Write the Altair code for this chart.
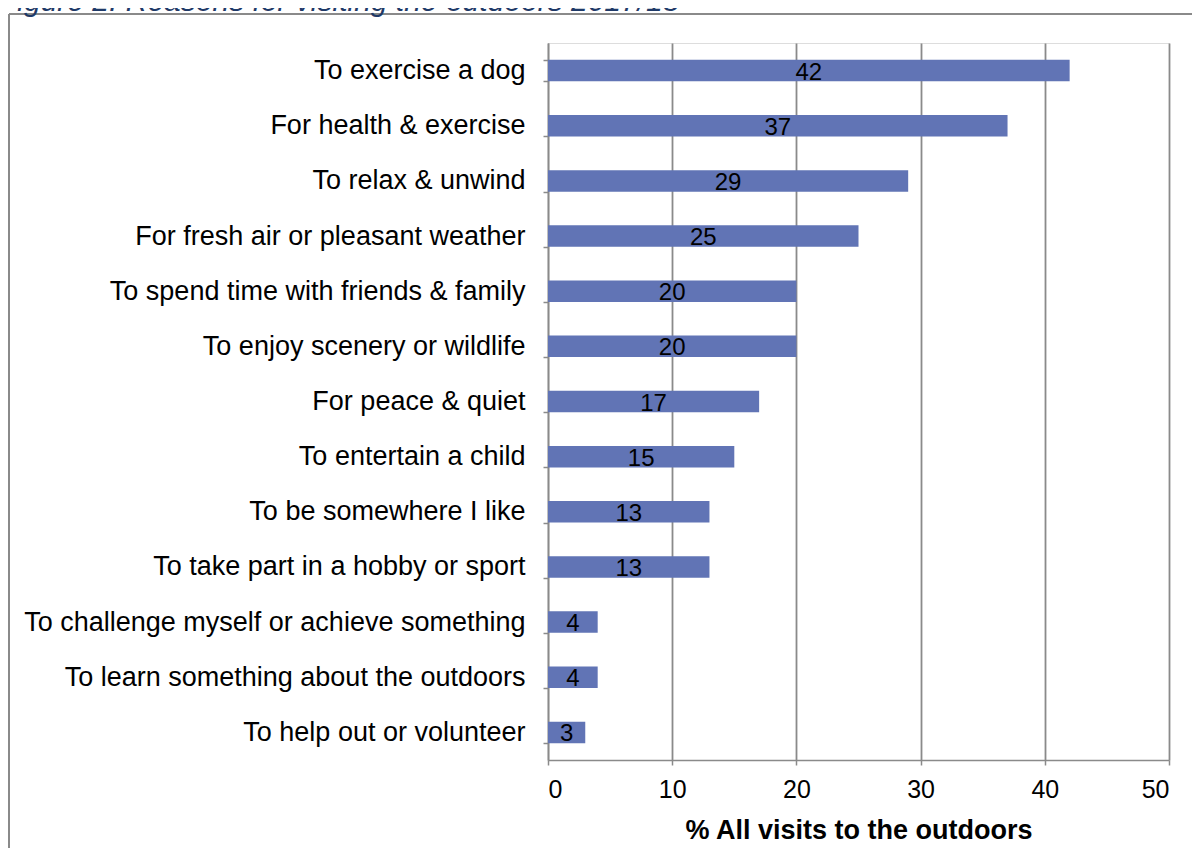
import altair as alt
import pandas as pd

categories = [
    "To exercise a dog",
    "For health & exercise",
    "To relax & unwind",
    "For fresh air or pleasant weather",
    "To spend time with friends & family",
    "To enjoy scenery or wildlife",
    "For peace & quiet",
    "To entertain a child",
    "To be somewhere I like",
    "To take part in a hobby or sport",
    "To challenge myself or achieve something",
    "To learn something about the outdoors",
    "To help out or volunteer",
]
values = [42, 37, 29, 25, 20, 20, 17, 15, 13, 13, 4, 4, 3]
x_ticks = [0, 10, 20, 30, 40, 50]
title_text = "Figure 2: Reasons for visiting the outdoors 2017/18"
x_title = "% All visits to the outdoors"

df = pd.DataFrame({"reason": categories, "pct": values})
df["mid"] = df["pct"] / 2

FONT = "Liberation Sans"
GRAY = "#8a8a8a"
BAR = "#6174b5"

y_enc = alt.Y(
    "reason:N",
    sort=categories,
    scale=alt.Scale(paddingInner=0.61, paddingOuter=0.305),
    axis=alt.Axis(
        title=None,
        domainColor=GRAY,
        domainWidth=1.5,
        tickColor=GRAY,
        tickWidth=1.5,
        tickSize=5,
        tickBand="extent",
        labelFontSize=27,
        labelColor="#000000",
        labelPadding=18,
        labelLimit=0,
        labelFont=FONT,
        grid=False,
    ),
)

x_enc = alt.X(
    "pct:Q",
    scale=alt.Scale(domain=[0, 50], nice=False),
    axis=alt.Axis(
        values=x_ticks,
        title=x_title,
        titleFont=FONT,
        titleFontSize=27,
        titleFontWeight="bold",
        titleColor="#000000",
        titlePadding=15,
        domainColor=GRAY,
        domainWidth=1.5,
        tickColor=GRAY,
        tickWidth=1.5,
        tickSize=5,
        grid=True,
        gridColor=GRAY,
        gridWidth=1.8,
        labelFontSize=25,
        labelColor="#000000",
        labelFont=FONT,
        labelPadding=12,
    ),
)

bars = alt.Chart(df).mark_bar(color=BAR).encode(x=x_enc, y=y_enc)

labels = alt.Chart(df).mark_text(
    font=FONT, fontSize=24, color="#000000", baseline="middle", align="center", dy=2
).encode(
    x=alt.X("mid:Q"),
    y=alt.Y("reason:N", sort=categories),
    text=alt.Text("pct:Q"),
)

frame_left = alt.Chart(df.head(1)).mark_rule(color=GRAY, strokeWidth=2).encode(
    x=alt.value(-539), y=alt.value(-29), y2=alt.value(818)
)
frame_top = alt.Chart(df.head(1)).mark_rule(color=GRAY, strokeWidth=2).encode(
    x=alt.value(-539), x2=alt.value(652), y=alt.value(-29)
)

fig_title = alt.Chart(pd.DataFrame({"t": [title_text]})).mark_text(
    font=FONT, fontSize=30, fontStyle="italic", color="#1f3a68", align="left", baseline="alphabetic"
).encode(x=alt.value(-549), y=alt.value(-32), text="t:N")

chart = (
    alt.layer(bars, labels, frame_left, frame_top, fig_title)
    .properties(
        width=621,
        height=717,
        autosize=alt.AutoSizeParams(type="none"),
        padding={"left": 540, "top": 35, "right": 23, "bottom": 88},
    )
    .configure_view(stroke=None)
    .configure(background="#ffffff")
)

chart.save("out.html", embed_options={"renderer": "svg", "actions": False})
